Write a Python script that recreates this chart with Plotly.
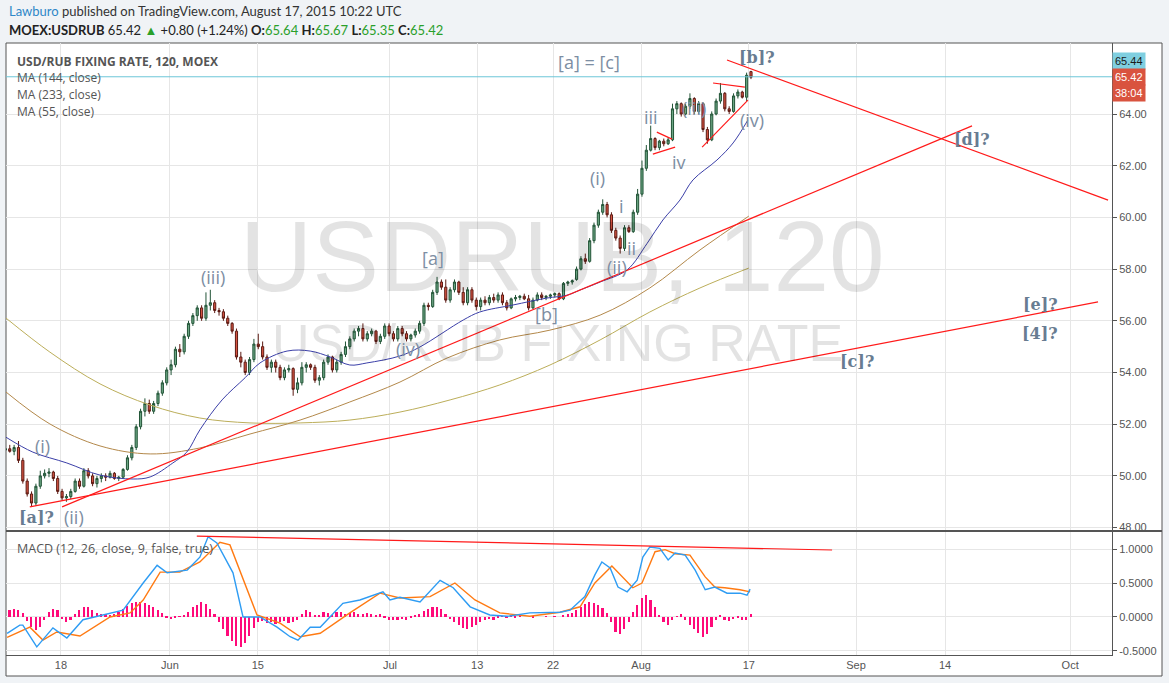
import plotly.graph_objects as go

# ---------------- data ----------------
OPEN = [51.0, 51.05, 50.95, 51.1, 50.6, 49.8, 49.3, 48.95, 49.6, 50.0,
        50.1, 50.15, 49.9, 49.4, 49.15, 49.2, 49.4, 49.8, 49.6, 50.2,
        50.0, 49.7, 49.9, 50.0, 49.95, 50.1, 49.9, 49.95, 50.25, 50.7,
        51.1, 51.9, 52.5, 52.8, 52.5, 52.8, 53.2, 53.6, 54.1, 54.3,
        54.9, 54.8, 55.4, 55.9, 56.2, 56.5, 56.1, 56.6, 56.7, 56.4,
        56.35, 56.1, 55.9, 55.6, 54.6, 54.4, 54.0, 54.5, 55.1, 55.0,
        54.6, 54.2, 54.4, 54.2, 53.8, 54.1, 54.15, 53.35, 53.6, 54.2,
        54.3, 54.2, 53.7, 53.8, 54.4, 54.6, 54.1, 54.4, 54.7, 55.0,
        55.3, 55.6, 55.7, 55.3, 55.5, 55.6, 55.2, 55.4, 55.8, 55.5,
        55.3, 55.7, 55.5, 55.3, 55.45, 55.6, 55.9, 56.6, 56.55, 57.1,
        57.5, 57.3, 56.8, 57.2, 57.5, 57.1, 56.7, 57.2, 56.8, 56.55,
        56.8, 56.7, 56.9, 56.8, 57.0, 56.7, 56.5, 56.85, 56.9, 56.95,
        56.85, 56.5, 56.8, 57.0, 56.9, 56.95, 57.0, 57.05, 56.85, 57.45,
        57.5, 57.6, 58.0, 58.4, 58.3, 59.1, 59.7, 60.2, 60.5, 60.1,
        59.5, 59.2, 58.8, 59.6, 59.45, 60.2, 60.9, 61.9, 62.6, 63.05,
        62.7, 62.95, 62.85, 63.0, 64.2, 64.4, 64.0, 64.3, 64.6, 64.1,
        64.4, 63.4, 63.0, 64.0, 64.5, 64.8, 64.2, 64.1, 64.7, 64.85,
        64.65, 65.64]
HIGH = [51.3, 51.2, 51.2, 51.35, 50.7, 49.9, 49.4, 49.7, 50.2, 50.25,
        50.3, 50.2, 50.0, 49.5, 49.3, 49.5, 49.9, 49.9, 50.3, 50.3,
        50.1, 50.0, 50.1, 50.1, 50.2, 50.15, 50.0, 50.3, 50.8, 51.2,
        52.0, 52.6, 53.0, 52.95, 52.9, 53.3, 53.7, 54.2, 54.5, 55.0,
        55.1, 55.5, 56.0, 56.3, 56.6, 56.6, 57.1, 57.2, 56.8, 56.5,
        56.45, 56.2, 55.95, 55.7, 54.8, 54.5, 54.6, 55.3, 55.5, 55.2,
        54.7, 54.5, 54.5, 54.3, 54.2, 54.3, 54.2, 53.8, 54.4, 54.4,
        54.35, 54.3, 53.9, 54.5, 54.7, 54.65, 54.5, 54.8, 55.2, 55.4,
        55.7, 55.8, 55.9, 55.6, 55.7, 55.65, 55.5, 55.9, 55.9, 55.6,
        55.8, 55.8, 55.6, 55.5, 55.7, 56.0, 56.7, 56.7, 57.2, 57.7,
        57.6, 57.6, 57.3, 57.6, 57.55, 57.3, 57.3, 57.3, 56.9, 56.9,
        56.95, 57.0, 57.05, 57.1, 57.1, 56.8, 56.9, 57.0, 57.0, 57.05,
        57.0, 56.9, 57.1, 57.1, 57.0, 57.05, 57.1, 57.1, 57.5, 57.55,
        57.6, 58.1, 58.5, 58.6, 59.2, 59.8, 60.3, 60.7, 60.6, 60.2,
        59.6, 59.3, 59.7, 59.7, 60.3, 61.1, 62.2, 62.8, 63.55, 63.1,
        63.0, 63.05, 63.1, 64.4, 64.5, 64.45, 64.4, 64.8, 64.65, 64.5,
        64.45, 63.5, 64.1, 64.6, 65.2, 64.85, 64.3, 64.8, 64.95, 64.9,
        65.6, 65.67]
LOW = [50.8, 50.9, 50.8, 50.5, 49.7, 49.2, 48.8, 48.85, 49.5, 49.9,
       49.95, 49.8, 49.3, 49.05, 49.0, 49.1, 49.35, 49.5, 49.55, 49.9,
       49.6, 49.55, 49.75, 49.8, 49.9, 49.85, 49.8, 49.9, 50.2, 50.6,
       51.0, 51.8, 52.3, 52.4, 52.4, 52.7, 53.1, 53.5, 53.9, 54.2,
       54.6, 54.7, 55.3, 55.8, 56.0, 56.0, 56.0, 56.4, 56.3, 56.2,
       56.0, 55.8, 55.5, 54.5, 54.2, 53.9, 53.9, 54.4, 54.9, 54.5,
       54.1, 54.0, 54.0, 53.7, 53.7, 54.0, 53.1, 53.2, 53.5, 54.0,
       54.1, 53.6, 53.5, 53.7, 54.3, 54.0, 54.0, 54.3, 54.6, 54.9,
       55.2, 55.4, 55.2, 55.2, 55.4, 55.1, 55.1, 55.3, 55.4, 55.2,
       55.2, 55.4, 55.2, 55.2, 55.35, 55.5, 55.8, 56.4, 56.5, 57.0,
       57.2, 56.7, 56.7, 57.1, 57.0, 56.6, 56.6, 56.7, 56.4, 56.4,
       56.6, 56.6, 56.7, 56.7, 56.6, 56.4, 56.45, 56.75, 56.8, 56.8,
       56.4, 56.45, 56.75, 56.8, 56.8, 56.85, 56.9, 56.8, 56.8, 57.35,
       57.4, 57.55, 57.95, 58.2, 58.25, 59.0, 59.6, 60.1, 60.0, 59.4,
       59.1, 58.6, 58.7, 59.4, 59.4, 60.1, 60.8, 61.8, 62.55, 62.6,
       62.6, 62.75, 62.8, 62.95, 64.0, 63.9, 63.95, 64.2, 64.0, 64.0,
       63.3, 62.85, 62.95, 63.95, 64.4, 64.1, 64.0, 64.05, 64.6, 64.6,
       64.5, 65.35]
CLOSE = [51.05, 50.95, 51.1, 50.6, 49.8, 49.3, 48.95, 49.6, 50.0, 50.1,
         50.15, 49.9, 49.4, 49.15, 49.2, 49.4, 49.8, 49.6, 50.2, 50.0,
         49.7, 49.9, 50.0, 49.95, 50.1, 49.9, 49.95, 50.25, 50.7, 51.1,
         51.9, 52.5, 52.8, 52.5, 52.8, 53.2, 53.6, 54.1, 54.3, 54.9,
         54.8, 55.4, 55.9, 56.2, 56.5, 56.1, 56.6, 56.7, 56.4, 56.35,
         56.1, 55.9, 55.6, 54.6, 54.4, 54.0, 54.5, 55.1, 55.0, 54.6,
         54.2, 54.4, 54.2, 53.8, 54.1, 54.15, 53.35, 53.6, 54.2, 54.3,
         54.2, 53.7, 53.8, 54.4, 54.6, 54.1, 54.4, 54.7, 55.0, 55.3,
         55.6, 55.7, 55.3, 55.5, 55.6, 55.2, 55.4, 55.8, 55.5, 55.3,
         55.7, 55.5, 55.3, 55.45, 55.6, 55.9, 56.6, 56.55, 57.1, 57.5,
         57.3, 56.8, 57.2, 57.5, 57.1, 56.7, 57.2, 56.8, 56.55, 56.8,
         56.7, 56.9, 56.8, 57.0, 56.7, 56.5, 56.85, 56.9, 56.95, 56.85,
         56.5, 56.8, 57.0, 56.9, 56.95, 57.0, 57.05, 56.85, 57.45, 57.5,
         57.55, 58.0, 58.4, 58.3, 59.1, 59.7, 60.2, 60.5, 60.1, 59.5,
         59.2, 58.8, 59.6, 59.45, 60.2, 60.9, 61.9, 62.6, 63.05, 62.7,
         62.95, 62.85, 63.0, 64.2, 64.4, 64.0, 64.3, 64.6, 64.1, 64.4,
         63.4, 63.0, 64.0, 64.5, 64.8, 64.2, 64.1, 64.7, 64.85, 64.65,
         65.5, 65.42]
HIST = [0.08, 0.11, 0.12, 0.10, 0.06, -0.06, -0.14, -0.19, -0.15, -0.04,
        0.08, 0.12, 0.10, -0.03, -0.07, -0.05, 0.04, 0.10, 0.15, 0.14,
        0.10, 0.06, 0.04, 0.05, 0.03, 0.05, 0.08, 0.12, 0.16, 0.20,
        0.22, 0.22, 0.21, 0.18, 0.15, 0.10, 0.06, -0.02, -0.03, -0.02,
        0.01, 0.03, 0.08, 0.14, 0.18, 0.22, 0.19, 0.12, 0.05, -0.08,
        -0.18, -0.28, -0.36, -0.42, -0.44, -0.38, -0.28, -0.16, -0.08, -0.06,
        -0.09, -0.07, -0.10, -0.08, -0.06, -0.09, -0.07, -0.04, 0.05, 0.10,
        0.08, 0.03, 0.02, 0.07, 0.06, 0.03, 0.08, 0.07, 0.05, 0.06,
        0.08, 0.05, 0.04, 0.06, 0.05, 0.03, 0.04, -0.02, -0.05, -0.04,
        -0.05, -0.03, -0.04, -0.02, 0.03, 0.05, 0.09, 0.12, 0.15, 0.15,
        0.12, 0.05, -0.03, -0.08, -0.12, -0.16, -0.17, -0.15, -0.12, -0.07,
        -0.04, -0.03, -0.05, -0.02, 0.01, -0.02, 0.02, -0.01, 0.02, 0.0,
        0.0, -0.01, 0.0, 0.0, 0.01, 0.0, 0.01, 0.0, 0.02, 0.04,
        0.06, 0.10, 0.14, 0.19, 0.22, 0.20, 0.17, 0.13, 0.06, -0.08,
        -0.22, -0.25, -0.18, -0.08, 0.08, 0.18, 0.28, 0.32, 0.25, 0.15,
        0.02, -0.07, -0.12, -0.05, 0.01, 0.04, -0.05, -0.12, -0.18, -0.24,
        -0.30, -0.25, -0.14, -0.05, 0.02, -0.04, -0.06, -0.03, -0.02, -0.04,
        -0.05, 0.04]

MA55_X = [0.1, 6.3, 14.1, 21.7, 29.3, 33.2, 38.4, 41.6, 44.6, 49.7, 55.0, 58.4,
          64.6, 69.9, 74.5, 79.0, 82.9, 90.5, 95.1, 105.0, 108.8, 116.4, 124.2,
          128.8, 131.8, 136.4, 142.6, 147.2, 150.8, 154.7, 157.7, 163.2, 166.9, 170.3]
MA55_Y = [51.5, 50.92, 50.5, 50.03, 49.88, 49.96, 50.5, 50.92, 51.78, 52.94, 53.8, 54.37,
          54.83, 54.83, 54.6, 54.29, 54.37, 54.64, 54.99, 56.03, 56.34, 56.61, 56.88,
          56.99, 57.19, 57.5, 57.97, 59.0, 59.9, 60.67, 61.45, 62.22, 62.88, 63.77]
MA144_X = [0.1, 10.2, 21.7, 33.2, 44.6, 56.1, 67.6, 79.0, 90.5, 101.3, 113.4, 124.9,
           136.4, 147.8, 159.3, 170.5]
MA144_Y = [53.25, 52.01, 51.16, 50.85, 51.08, 51.62, 52.16, 52.86, 53.63, 54.56, 55.26,
           55.64, 56.22, 57.27, 58.74, 60.05]
MA233_X = [0.1, 10.2, 21.7, 33.2, 44.6, 56.1, 67.6, 79.0, 90.5, 102.0, 113.4, 124.9,
           136.4, 147.8, 159.3, 170.5]
MA233_Y = [56.11, 54.79, 53.56, 52.74, 52.24, 52.05, 52.05, 52.16, 52.47, 52.94, 53.52,
           54.29, 55.26, 56.34, 57.27, 58.04]

MACD_X = [0.4, 3.3, 4.0, 7.2, 10.9, 14.1, 17.8, 24.0, 27.0, 31.6, 34.8, 37.1, 41.7,
          44.6, 46.5, 48.5, 52.2, 54.5, 58.4, 62.3, 65.3, 67.1, 69.9, 72.2, 77.4,
          81.3, 86.6, 88.2, 90.5, 95.1, 99.7, 102.7, 106.6, 111.1, 115.1, 120.3,
          127.2, 129.5, 132.9, 135.2, 136.8, 138.7, 140.5, 142.6, 144.9, 146.2,
          147.8, 150.1, 152.0, 153.6, 155.9, 158.2, 160.5, 162.7, 165.5, 168.5,
          170.1, 170.8]
MACD_Y = [-0.24, -0.12, -0.12, -0.44, -0.16, -0.31, -0.04, 0.06, 0.10, 0.50, 0.76,
          0.65, 0.69, 0.88, 1.18, 1.09, 0.65, 0.0, 0.0, -0.15, -0.29, -0.34, -0.15,
          -0.15, 0.20, 0.25, 0.37, 0.25, 0.29, 0.22, 0.54, 0.43, 0.15, 0.03, 0.01,
          0.06, 0.07, 0.10, 0.30, 0.62, 0.81, 0.72, 0.44, 0.37, 0.54, 0.88, 1.03,
          1.01, 0.84, 0.94, 0.91, 0.69, 0.40, 0.44, 0.35, 0.35, 0.32, 0.41]
SIGNAL_X = [0.4, 5.6, 8.6, 11.8, 17.1, 24.0, 28.6, 31.6, 35.5, 40.0, 44.6, 49.2,
            51.5, 55.4, 57.7, 63.0, 67.6, 72.2, 79.0, 85.9, 90.5, 97.4, 103.1,
            107.7, 113.4, 120.3, 127.2, 131.8, 135.2, 139.1, 142.1, 143.9, 146.0,
            149.0, 151.3, 153.6, 157.0, 160.5, 162.7, 165.0, 168.5, 170.8]
SIGNAL_Y = [-0.30, -0.15, -0.34, -0.22, -0.28, 0.0, 0.06, 0.25, 0.66, 0.66, 0.81,
            1.10, 1.06, 0.40, 0.03, -0.09, -0.29, -0.24, 0.06, 0.35, 0.28, 0.30,
            0.50, 0.25, 0.06, 0.01, 0.07, 0.15, 0.50, 0.75, 0.54, 0.43, 0.50, 0.96,
            0.99, 0.93, 0.91, 0.59, 0.44, 0.43, 0.40, 0.37]

TICK_POS = [12.75, 37.75, 57.9, 88.2, 108.2, 125.6, 145.8, 170.5, 195.1, 215.5, 244.2]
TICK_TEXT = ["18", "Jun", "15", "Jul", "13", "22", "Aug", "17", "Sep", "14", "Oct"]
PRICE_TICKS = [48, 50, 52, 54, 56, 58, 60, 62, 64]
MACD_TICKS = [-0.5, 0.0, 0.5, 1.0]
H_LINE_LEVEL = 65.44
LAST_PRICE = 65.42
COUNTDOWN = "38:04"

BAR_X = list(range(len(CLOSE)))

# ---------------- figure ----------------
W, H = 1169, 683
ML, MR, MT, MB = 6, 57, 43, 28
PH = H - MT - MB          # plot height in px
PW = W - ML - MR


def py(yp):               # pixel y -> paper y
    return (H - MB - yp) / PH


def px(xp):               # pixel x -> paper x
    return (xp - ML) / PW


AX_FONT = dict(family="Liberation Sans, Arial", size=11, color="#555555")
LBL = "#7d8ea3"
LBL_B = "#687c91"

fig = go.Figure()

fig.add_trace(go.Scatter(x=MA233_X, y=MA233_Y, mode="lines", xaxis="x", yaxis="y",
                         line=dict(color="#bcae5a", width=1, shape="spline"), hoverinfo="skip"))
fig.add_trace(go.Scatter(x=MA144_X, y=MA144_Y, mode="lines", xaxis="x", yaxis="y",
                         line=dict(color="#b3884a", width=1, shape="spline"), hoverinfo="skip"))
fig.add_trace(go.Scatter(x=MA55_X, y=MA55_Y, mode="lines", xaxis="x", yaxis="y",
                         line=dict(color="#3b3fa8", width=1, shape="spline"), hoverinfo="skip"))
fig.add_trace(go.Candlestick(x=BAR_X, open=OPEN, high=HIGH, low=LOW, close=CLOSE,
                             xaxis="x", yaxis="y", whiskerwidth=0,
                             increasing=dict(line=dict(color="#225437", width=1), fillcolor="#6ba583"),
                             decreasing=dict(line=dict(color="#5b1a13", width=1), fillcolor="#d75442")))

fig.add_trace(go.Bar(x=BAR_X, y=HIST, xaxis="x", yaxis="y2", width=0.38,
                     marker=dict(color="#ff0a7a", line=dict(width=0)), hoverinfo="skip"))
fig.add_trace(go.Scatter(x=SIGNAL_X, y=SIGNAL_Y, mode="lines", xaxis="x", yaxis="y2",
                         line=dict(color="#ff7a12", width=1.4), hoverinfo="skip"))
fig.add_trace(go.Scatter(x=MACD_X, y=MACD_Y, mode="lines", xaxis="x", yaxis="y2",
                         line=dict(color="#2e9cf3", width=1.4), hoverinfo="skip"))

shapes = []
# chart frame
shapes.append(dict(type="rect", xref="paper", yref="paper", x0=px(6), x1=px(1162),
                   y0=py(676), y1=py(43), line=dict(color="#555555", width=1),
                   fillcolor="white", layer="below"))
# pane separator
shapes.append(dict(type="line", xref="paper", yref="paper", x0=px(6), x1=px(1162),
                   y0=py(531), y1=py(531), line=dict(color="#555555", width=2)))
# horizontal level line
shapes.append(dict(type="line", xref="paper", yref="y", x0=0, x1=1,
                   y0=H_LINE_LEVEL, y1=H_LINE_LEVEL, line=dict(color="#6cc6d8", width=1)))
# trend lines (main pane)
red = dict(color="#ff1a1a", width=1.2)
for (x0, y0, x1, y1) in [(5.6, 48.8, 250.6, 56.73), (13.0, 48.8, 221.7, 63.54),
                         (165.5, 66.09, 252.9, 60.67),
                         (149.4, 63.3, 152.9, 63.03), (148.5, 62.45, 153.6, 62.72),
                         (162.3, 65.2, 169.6, 65.04), (159.8, 62.72, 170.3, 64.54)]:
    shapes.append(dict(type="line", xref="x", yref="y", x0=x0, y0=y0, x1=x1, y1=y1, line=red))
# MACD divergence line
shapes.append(dict(type="line", xref="x", yref="y2", x0=43.9, y0=1.19, x1=189.6, y1=0.985, line=red))

ann = []
# header
ann.append(dict(xref="paper", yref="paper", x=px(7), y=py(11), xanchor="left", yanchor="middle",
                showarrow=False, font=dict(family="Lato, Open Sans", size=13, color="#333333"),
                text="<span style='color:#2e87c8'>Lawburo</span> published on TradingView.com, August 17, 2015 10:22 UTC"))
G = "#2aa02a"
ann.append(dict(xref="paper", yref="paper", x=px(7), y=py(30), xanchor="left", yanchor="middle",
                showarrow=False, font=dict(family="Lato, Open Sans", size=13, color="#222222"),
                text=(f"<b>MOEX:USDRUB</b> 65.42 <span style='color:{G}'>▲</span> +0.80 (+1.24%) "
                      f"<b>O:</b><span style='color:{G}'>65.64</span> <b>H:</b><span style='color:{G}'>65.67</span> "
                      f"<b>L:</b><span style='color:{G}'>65.35</span> <b>C:</b><span style='color:{G}'>65.42</span>")))
# legend texts
ann.append(dict(xref="paper", yref="paper", x=px(15), y=py(61), xanchor="left", yanchor="middle",
                showarrow=False, font=dict(family="Open Sans", size=12, color="#555555"),
                text="<b>USD/RUB FIXING RATE, 120, MOEX</b>"))
for txt, yy in [("MA (144, close)", 77), ("MA (233, close)", 94), ("MA (55, close)", 111)]:
    ann.append(dict(xref="paper", yref="paper", x=px(15), y=py(yy), xanchor="left", yanchor="middle",
                    showarrow=False, font=dict(family="Open Sans", size=12, color="#555555"), text=txt))
ann.append(dict(xref="paper", yref="paper", x=px(15), y=py(548), xanchor="left", yanchor="middle",
                showarrow=False, font=dict(family="Open Sans", size=12.5, color="#555555"),
                text="MACD (12, 26, close, 9, false, true)"))
# watermark
ann.append(dict(xref="paper", yref="paper", x=px(562), y=py(256), xanchor="center", yanchor="middle",
                showarrow=False, font=dict(family="Liberation Sans, Arial", size=100, color="rgba(0,0,0,0.11)"),
                text="USDRUB, 120"))
ann.append(dict(xref="paper", yref="paper", x=px(557), y=py(343), xanchor="center", yanchor="middle",
                showarrow=False, font=dict(family="Liberation Sans, Arial", size=52, color="rgba(0,0,0,0.11)"),
                text="USD/RUB FIXING RATE"))
# wave labels (plain)
for txt, xx, yy in [("(i)", 8.4, 51.16), ("(ii)", 15.7, 48.41), ("(iii)", 47.6, 57.69),
                    ("(iv)", 92.3, 54.91), ("[a]", 98.1, 58.43), ("[b]", 124.2, 56.26),
                    ("(ii)", 140.3, 58.08), ("ii", 143.7, 58.82), ("i", 141.4, 60.44),
                    ("(i)", 135.9, 61.52), ("iii", 148.1, 63.88), ("iv", 154.5, 62.14),
                    ("(iii)", 157.9, 64.23), ("(iv)", 171.2, 63.77), ("[a] = [c]", 133.9, 66.01)]:
    ann.append(dict(xref="x", yref="y", x=xx, y=yy, xanchor="center", yanchor="middle",
                    showarrow=False, font=dict(family="Open Sans", size=18, color=LBL), text=txt))
# wave labels (bold serif)
for txt, xx, yy in [("[a]?", 7.2, 48.41), ("[b]?", 172.4, 66.17), ("[d]?", 221.7, 63.03),
                    ("[e]?", 237.3, 56.65), ("[4]?", 237.3, 55.49), ("[c]?", 195.3, 54.41)]:
    ann.append(dict(xref="x", yref="y", x=xx, y=yy, xanchor="center", yanchor="middle",
                    showarrow=False, font=dict(family="DejaVu Serif", size=16, color=LBL_B),
                    text=f"<b>{txt}</b>"))
# price labels on axis
ann.append(dict(xref="paper", yref="paper", x=px(1112), y=py(61), xanchor="left", yanchor="middle",
                showarrow=False, bgcolor="#7fcfe0", borderpad=2,
                font=dict(family="Liberation Sans, Arial", size=11, color="#1a1a1a"),
                text=f"{H_LINE_LEVEL:.2f}"))
ann.append(dict(xref="paper", yref="paper", x=px(1112), y=py(76.5), xanchor="left", yanchor="middle",
                showarrow=False, bgcolor="#d9533f", borderpad=2,
                font=dict(family="Liberation Sans, Arial", size=11, color="white"),
                text=f"{LAST_PRICE:.2f}"))
ann.append(dict(xref="paper", yref="paper", x=px(1112), y=py(93), xanchor="left", yanchor="middle",
                showarrow=False, bgcolor="#d9533f", borderpad=2,
                font=dict(family="Liberation Sans, Arial", size=11, color="white"),
                text=COUNTDOWN))

main_bottom = py(530)
macd_top = py(532)

fig.update_layout(
    width=W, height=H,
    margin=dict(l=ML, r=MR, t=MT, b=MB),
    paper_bgcolor="#f0f3f6", plot_bgcolor="white",
    showlegend=False, hovermode=False,
    shapes=shapes, annotations=ann,
    xaxis=dict(domain=[0, 1], anchor="y2", range=[0.14, 253.8],
               tickvals=TICK_POS, ticktext=TICK_TEXT, tickfont=AX_FONT,
               showgrid=True, gridcolor="#e6e6e6", gridwidth=1, zeroline=False,
               showline=True, linecolor="#555555", linewidth=1, ticks="",
               rangeslider=dict(visible=False), fixedrange=True),
    yaxis=dict(domain=[main_bottom, 1], anchor="x", side="right", range=[47.907, 66.747],
               tickvals=PRICE_TICKS, ticktext=[f"{v:.2f}" for v in PRICE_TICKS],
               tickfont=AX_FONT, ticks="outside", ticklen=4, tickcolor="#555555",
               showgrid=True, gridcolor="#e6e6e6", zeroline=False,
               showline=True, linecolor="#555555", linewidth=1, fixedrange=True),
    yaxis2=dict(domain=[0, macd_top], anchor="x", side="right", range=[-0.559, 1.25],
                tickvals=MACD_TICKS, ticktext=[f"{v:.4f}" for v in MACD_TICKS],
                tickfont=AX_FONT, ticks="outside", ticklen=4, tickcolor="#555555",
                showgrid=True, gridcolor="#e6e6e6", zeroline=False,
                showline=True, linecolor="#555555", linewidth=1, fixedrange=True),
    bargap=0,
)

fig.write_html("out.html", config={"displayModeBar": False},
               post_script="document.body.style.margin='0px';document.body.style.overflow='hidden';")
